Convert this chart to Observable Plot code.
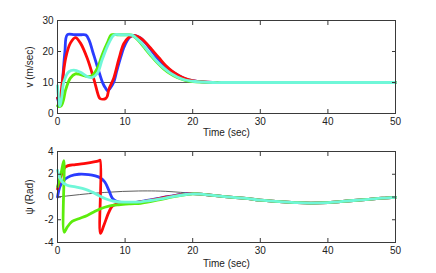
<!DOCTYPE html>
<html><head><meta charset="utf-8">
<script src="https://cdn.jsdelivr.net/npm/d3@7"></script>
<script src="https://cdn.jsdelivr.net/npm/@observablehq/plot@0.6"></script>
<style>
html,body{margin:0;padding:0;background:#fff;}
#c svg{display:block;}
</style>
</head><body><div id="c"></div>
<script>
// ---------- tick labels ----------
const xTicks = [0, 10, 20, 30, 40, 50];
const vTicks = [0, 10, 20, 30];
const psiTicks = [-4, -2, 0, 2, 4];

// ---------- speed v (m/sec) ----------
const vRefT = [0, 50];
const vRef  = [10, 10];

const vBlueT = [0, 0.2, 0.45, 0.8, 1.1, 1.45, 2.5, 3.5, 4.2, 4.7, 5.2, 5.7, 6.2, 6.7, 7.1, 7.45, 7.8, 8.3, 8.8, 9.3, 9.8, 10.3, 10.8, 11.3, 11.8, 12.3, 13, 13.8, 14.7, 15.7, 16.7, 17.7, 18.9, 20, 21.5, 23, 25, 30, 40, 50];
const vBlue  = [5, 3.5, 2.8, 12, 20, 25.4, 25.4, 25.4, 25.3, 23.5, 20, 16.5, 13, 9.8, 8.2, 7.3, 8.2, 10, 14, 17.8, 21.2, 23.5, 24.8, 25.2, 24.9, 24.3, 22.8, 20.6, 18, 15.7, 13.9, 12.5, 11.2, 10.6, 10.2, 10.05, 10, 10, 10, 10];

const vRedT = [0, 0.3, 0.7, 1.2, 1.9, 2.66, 3.4, 4.4, 5.4, 6.1, 6.3, 7.1, 7.35, 7.6, 8.33, 9.07, 9.8, 10.5, 11.0, 11.5, 12.0, 12.5, 13.2, 14, 15, 16, 17, 18, 19, 20, 21.5, 23, 25, 30, 40, 50];
const vRed  = [5, 4.2, 10, 17.8, 22.7, 24.5, 22.7, 17.8, 10.9, 5.5, 4.8, 4.8, 5.5, 7.8, 11.5, 17.5, 22.5, 24.5, 25.0, 25.1, 24.7, 24, 22.5, 20.5, 18, 15.5, 13.6, 12.2, 11.2, 10.6, 10.2, 10.05, 10, 10, 10, 10];

const vGreenT = [0, 0.3, 0.6, 0.9, 1.2, 1.9, 2.66, 3.4, 4.4, 5.1, 5.9, 6.6, 7.35, 8.0, 9, 10, 11.0, 11.5, 12.3, 13, 13.8, 14.7, 15.7, 16.7, 17.7, 18.9, 20, 21.5, 23, 25, 30, 40, 50];
const vGreen  = [2.5, 2.2, 2.6, 4.5, 7.6, 11.4, 12.8, 12.5, 11.9, 12.2, 14.6, 18.9, 22.7, 25.4, 25.4, 25.4, 25.3, 24.5, 22.7, 20.8, 18.7, 16.5, 14.4, 12.8, 11.6, 10.7, 10.3, 10.1, 10, 10, 10, 10, 10];

const vCyanT = [0, 0.15, 0.35, 0.6, 0.95, 1.7, 2.4, 3.4, 4.4, 5.1, 5.9, 6.6, 7.6, 8.4, 9.5, 10.5, 11.0, 11.5, 12.3, 13, 13.8, 14.7, 15.7, 16.7, 17.7, 18.9, 20, 21.5, 23, 25, 30, 40, 50];
const vCyan  = [9, 5, 2.4, 5, 10.3, 13.5, 14, 13.3, 11.9, 11.6, 13, 17.3, 22.7, 25.4, 25.4, 25.4, 25.3, 24.6, 23, 21.2, 19, 16.8, 14.7, 13, 11.8, 10.8, 10.4, 10.1, 10, 10, 10, 10, 10];

// ---------- heading psi (Rad) ----------
const psiRefT = [0, 2, 4.6, 7, 9.6, 12, 14.5, 16, 18.2, 19.7, 21.2, 23, 26, 28.5, 30, 33.4, 35.5, 37.5, 40, 43.3, 46, 48, 50];
const psiRef  = [0, 0.13, 0.29, 0.4, 0.49, 0.53, 0.53, 0.5, 0.41, 0.34, 0.26, 0.14, -0.03, -0.17, -0.28, -0.43, -0.5, -0.53, -0.49, -0.33, -0.2, -0.1, -0.03];

const psiTailT = [23, 26, 28.5, 30, 33.4, 35.5, 37.5, 40, 43.3, 46, 48, 50];
const psiTail  = [0.14, -0.03, -0.17, -0.28, -0.43, -0.5, -0.53, -0.49, -0.33, -0.2, -0.1, -0.03];

const psiBlueT = [0, 0.44, 1.18, 1.92, 3.15, 4.6, 5.6, 6.36, 7.0, 7.6, 8.1, 8.8, 9.8, 10.8, 11.8, 13, 14.5, 16, 17.5, 19, 20, 21.2];
const psiBlue  = [0, 1.03, 1.6, 1.85, 2.0, 1.97, 1.85, 1.67, 1.32, 0.58, -0.09, -0.39, -0.5, -0.52, -0.45, -0.33, -0.17, 0.0, 0.15, 0.27, 0.3, 0.26];

const psiRedT = [0, 0.4, 1.18, 2.66, 4.14, 5.37, 6.1, 6.3, 6.35, 6.85, 7.6, 8.1, 8.8, 9.8, 10.8, 11.8, 13, 14.5, 16, 17.5, 19, 20, 21.2];
const psiRed  = [0.7, 1.6, 2.64, 2.85, 2.96, 3.08, 3.18, 3.23, -3.2, -2.5, -1.33, -0.8, -0.62, -0.57, -0.55, -0.48, -0.36, -0.2, -0.02, 0.13, 0.26, 0.3, 0.26];

const psiGreenT = [0, 0.5, 0.94, 0.98, 1.43, 2.17, 3.15, 4.4, 5.37, 6.36, 7.6, 9.07, 10.8, 12.3, 13.5, 15.2, 17, 19, 20, 21.2];
const psiGreen  = [0.9, 2.0, 3.2, -3.1, -2.65, -2.15, -1.91, -1.62, -1.32, -1.03, -0.8, -0.68, -0.6, -0.55, -0.42, -0.24, 0.0, 0.2, 0.28, 0.26];

const psiCyanT = [0, 0.69, 1.43, 2.66, 4.14, 5.13, 6.1, 7.1, 8.1, 9.07, 10.8, 12.3, 13.5, 15.2, 17, 19, 20, 21.2];
const psiCyan  = [2.35, 1.32, 1.03, 0.88, 0.67, 0.43, 0.14, -0.15, -0.35, -0.44, -0.45, -0.42, -0.33, -0.17, 0.04, 0.22, 0.28, 0.26];

// ---------- helpers ----------
const pts = (ts, vs) => ts.map((t, i) => ({t, v: vs[i]}));
const withTail = (ts, vs) => pts(ts.concat(psiTailT), vs.concat(psiTail));

const colors = {blue: "#2a3cff", red: "#ff0a0a", green: "#5cec0c", cyan: "#6ff7d8", ref: "#333"};
const lw = 2.8;
const font = "'Liberation Sans', Arial, Helvetica, sans-serif";

function seriesLine(data, color, width, curve) {
  return Plot.line(data, {x: "t", y: "v", stroke: color, strokeWidth: width, curve, strokeLinejoin: "round", strokeLinecap: "round"});
}

function panel({height, marginTop, marginBottom, yDomain, yTicksArr, yLabel, lines, xLabelOffset}) {
  return Plot.plot({
    width: 436, height, marginLeft: 57, marginRight: 41, marginTop, marginBottom,
    style: {fontFamily: font, fontSize: "10px", color: "#222", background: "#fff", overflow: "visible"},
    x: {domain: [0, 50]},
    y: {domain: yDomain},
    marks: [
      ...lines,
      Plot.frame({stroke: "#3a3a3a", strokeWidth: 1}),
      Plot.axisX({ticks: xTicks, tickSize: 0, tickPadding: 4, tickFormat: d => `${d}`, label: "Time (sec)", labelAnchor: "center", labelArrow: "none", labelOffset: xLabelOffset}),
      Plot.axisX({ticks: xTicks, tickSize: -4, tickFormat: () => "", label: null, stroke: "#3a3a3a"}),
      Plot.axisX({anchor: "top", ticks: xTicks, tickSize: -4, tickFormat: () => "", label: null, stroke: "#3a3a3a"}),
      Plot.axisY({ticks: yTicksArr, tickSize: 0, tickPadding: 4, tickFormat: d => `${d}`, label: yLabel, labelAnchor: "center", labelArrow: "none", labelOffset: 32}),
      Plot.axisY({ticks: yTicksArr, tickSize: -4, tickFormat: () => "", label: null, stroke: "#3a3a3a"}),
      Plot.axisY({anchor: "right", ticks: yTicksArr, tickSize: -4, tickFormat: () => "", label: null, stroke: "#3a3a3a"})
    ]
  });
}

const curve = "catmull-rom";
const topPlot = panel({
  height: 136, marginTop: 20, marginBottom: 23, yDomain: [0, 30], yTicksArr: vTicks, yLabel: "v (m/sec)", xLabelOffset: 22,
  lines: [
    seriesLine(pts(vRefT, vRef), colors.ref, 0.8, "linear"),
    seriesLine(pts(vBlueT, vBlue), colors.blue, lw, curve),
    seriesLine(pts(vRedT, vRed), colors.red, lw, curve),
    seriesLine(pts(vGreenT, vGreen), colors.green, lw, curve),
    seriesLine(pts(vCyanT, vCyan), colors.cyan, lw, curve)
  ]
});
const bottomPlot = panel({
  height: 137, marginTop: 15, marginBottom: 31, yDomain: [-4, 4], yTicksArr: psiTicks, yLabel: "ψ (Rad)", xLabelOffset: 24,
  lines: [
    seriesLine(pts(psiRefT, psiRef), colors.ref, 0.8, curve),
    seriesLine(withTail(psiBlueT, psiBlue), colors.blue, lw, curve),
    seriesLine(withTail(psiRedT, psiRed), colors.red, lw, curve),
    seriesLine(withTail(psiGreenT, psiGreen), colors.green, lw, curve),
    seriesLine(withTail(psiCyanT, psiCyan), colors.cyan, lw, curve)
  ]
});
const c = document.getElementById("c");
c.appendChild(topPlot);
c.appendChild(bottomPlot);
</script>
</body></html>
